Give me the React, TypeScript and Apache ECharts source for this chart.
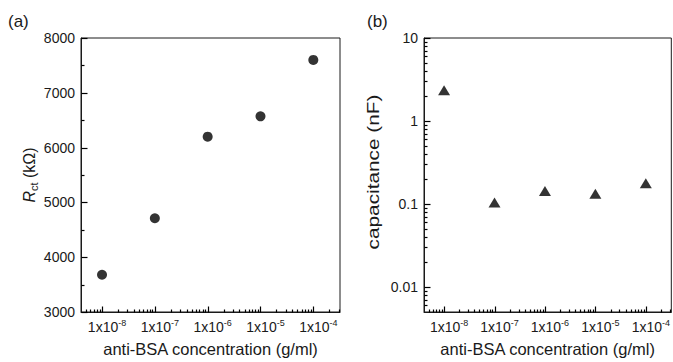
import React, { useEffect, useRef } from 'react';
import * as echarts from 'echarts';

// ---- data ----
const concentrations = [1e-8, 1e-7, 1e-6, 1e-5, 1e-4];
const rctValues = [3680, 4710, 6200, 6570, 7600];
const capValues = [2.35, 0.104, 0.143, 0.133, 0.178];
const xMajorTicks = [1e-8, 1e-7, 1e-6, 1e-5, 1e-4];
const capMajorTicks = [0.01, 0.1, 1, 10];
const rctMajorTicks = [3000, 4000, 5000, 6000, 7000, 8000];
const rctMinorTicks = [3500, 4500, 5500, 6500, 7500];

const X_MIN = 4e-9;
const X_MAX = 3.2e-4;
const CAP_MIN = 0.005;
const CAP_MAX = 10;
const RCT_MIN = 3000;
const RCT_MAX = 8000;
const RCT_STEP = 1000;

function logMinor(min: number, max: number): number[] {
  const out: number[] = [];
  for (let e = Math.floor(Math.log10(min)); e <= Math.ceil(Math.log10(max)); e++) {
    for (let m = 2; m <= 9; m++) {
      const v = m * Math.pow(10, e);
      if (v > min * 1.001 && v < max * 0.999) out.push(v);
    }
  }
  return out;
}

const FONT = 'Liberation Sans';
const INK = '#1a1a1a';
const TICK_INK = '#000000';

const xLabelFormatter = (v: number) => {
  const e = Math.round(Math.log10(v));
  return `{a|1x10}{b|${e}}`;
};

const xLabelRich = {
  a: { fontSize: 14, lineHeight: 18, fontFamily: FONT, color: INK, padding: [0, 0, 0, 10] },
  b: { fontSize: 9, lineHeight: 9, fontFamily: FONT, color: INK, verticalAlign: 'top' },
};

// tick marks drawn through the axes' own scales (pointing into the plot)
function tickSeries(xAxisIndex: number, yAxisIndex: number, points: number[][], dir: 'up' | 'right', len: number) {
  return {
    type: 'custom',
    xAxisIndex,
    yAxisIndex,
    silent: true,
    clip: false,
    z: 5,
    data: points,
    encode: { x: 0, y: 1 },
    renderItem: (_params: any, api: any) => {
      const p = api.coord([api.value(0), api.value(1)]);
      const x = Math.round(p[0]) + 0.5;
      const y = Math.round(p[1]) + 0.5;
      const shape = dir === 'up'
        ? { x1: x, y1: y, x2: x, y2: y - len }
        : { x1: x, y1: y, x2: x + len, y2: y };
      return { type: 'line', shape, style: { stroke: TICK_INK, lineWidth: 1.2 } };
    },
  };
}

function xAxisFor(gridIndex: number) {
  return {
    type: 'log',
    gridIndex,
    min: X_MIN,
    max: X_MAX,
    position: 'bottom',
    name: 'anti-BSA concentration (g/ml)',
    nameLocation: 'middle',
    nameGap: 28,
    nameTextStyle: { fontSize: 16.5, fontFamily: FONT, color: INK },
    axisLine: { show: true, lineStyle: { color: INK, width: 1 } },
    axisTick: { show: false },
    axisLabel: {
      show: true,
      margin: 6,
      customValues: xMajorTicks,
      formatter: xLabelFormatter,
      rich: xLabelRich,
    },
    splitLine: { show: false },
  };
}

export default function App() {
  const ref = useRef<HTMLDivElement>(null);

  useEffect(() => {
    document.body.style.margin = '0';
    if (!ref.current) return;
    const chart = echarts.init(ref.current, undefined, { renderer: 'svg' });

    const xMinor = logMinor(X_MIN, X_MAX);
    const capMinor = logMinor(CAP_MIN, CAP_MAX);

    const option: any = {
      animation: false,
      backgroundColor: '#ffffff',
      textStyle: { fontFamily: FONT },
      grid: [
        { left: 81, top: 38, width: 259, height: 274, show: true, borderColor: INK, borderWidth: 1 },
        { left: 424, top: 38, width: 259, height: 274, show: true, borderColor: INK, borderWidth: 1 },
      ],
      xAxis: [xAxisFor(0), xAxisFor(1)],
      yAxis: [
        {
          type: 'value',
          gridIndex: 0,
          min: RCT_MIN,
          max: RCT_MAX,
          interval: RCT_STEP,
          name: '{i|R}{s|ct}{n| (kΩ)}',
          nameLocation: 'middle',
          nameGap: 41,
          nameTextStyle: {
            rich: {
              i: { fontSize: 16, lineHeight: 20, fontStyle: 'italic', fontFamily: FONT, color: INK },
              s: { fontSize: 11, lineHeight: 11, fontFamily: FONT, color: INK, verticalAlign: 'bottom' },
              n: { fontSize: 16, lineHeight: 20, fontFamily: FONT, color: INK },
            },
          },
          axisLine: { show: true, lineStyle: { color: INK, width: 1 } },
          axisTick: { show: false },
          axisLabel: { fontSize: 14, fontFamily: FONT, color: INK, margin: 6, formatter: (v: number) => String(v) },
          splitLine: { show: false },
        },
        {
          type: 'log',
          gridIndex: 1,
          min: CAP_MIN,
          max: CAP_MAX,
          axisLine: { show: true, lineStyle: { color: INK, width: 1 } },
          axisTick: { show: false },
          axisLabel: {
            fontSize: 14,
            fontFamily: FONT,
            color: INK,
            margin: 6,
            customValues: capMajorTicks,
            formatter: (v: number) => String(Number(v.toPrecision(3))),
          },
          splitLine: { show: false },
        },
      ],
      graphic: [
        { type: 'text', left: 8, top: 13, style: { text: '(a)', fontSize: 17, fontFamily: FONT, fill: INK } },
        { type: 'text', left: 367, top: 13, style: { text: '(b)', fontSize: 17, fontFamily: FONT, fill: INK } },
        {
          type: 'text',
          x: 373,
          y: 172,
          rotation: Math.PI / 2,
          scaleX: 1.3,
          style: { text: 'capacitance (nF)', fontSize: 16, fontFamily: FONT, fill: INK, align: 'center', verticalAlign: 'middle' },
        },
      ],
      series: [
        // panel (a) ticks
        tickSeries(0, 0, xMajorTicks.map((v) => [v, RCT_MIN]), 'up', 6),
        tickSeries(0, 0, xMinor.map((v) => [v, RCT_MIN]), 'up', 3),
        tickSeries(0, 0, rctMajorTicks.map((v) => [X_MIN, v]), 'right', 6),
        tickSeries(0, 0, rctMinorTicks.map((v) => [X_MIN, v]), 'right', 3),
        // panel (b) ticks
        tickSeries(1, 1, xMajorTicks.map((v) => [v, CAP_MIN]), 'up', 6),
        tickSeries(1, 1, xMinor.map((v) => [v, CAP_MIN]), 'up', 3),
        tickSeries(1, 1, capMajorTicks.map((v) => [X_MIN, v]), 'right', 6),
        tickSeries(1, 1, capMinor.map((v) => [X_MIN, v]), 'right', 3),
        {
          type: 'scatter',
          xAxisIndex: 0,
          yAxisIndex: 0,
          symbol: 'circle',
          symbolSize: 10,
          itemStyle: { color: '#000' },
          data: concentrations.map((c, i) => [c, rctValues[i]]),
        },
        {
          type: 'scatter',
          xAxisIndex: 1,
          yAxisIndex: 1,
          symbol: 'triangle',
          symbolSize: [12, 10],
          itemStyle: { color: '#000' },
          data: concentrations.map((c, i) => [c, capValues[i]]),
        },
      ],
    };

    chart.setOption(option);
    return () => chart.dispose();
  }, []);

  return <div ref={ref} style={{ width: 673, height: 362 }} />;
}
